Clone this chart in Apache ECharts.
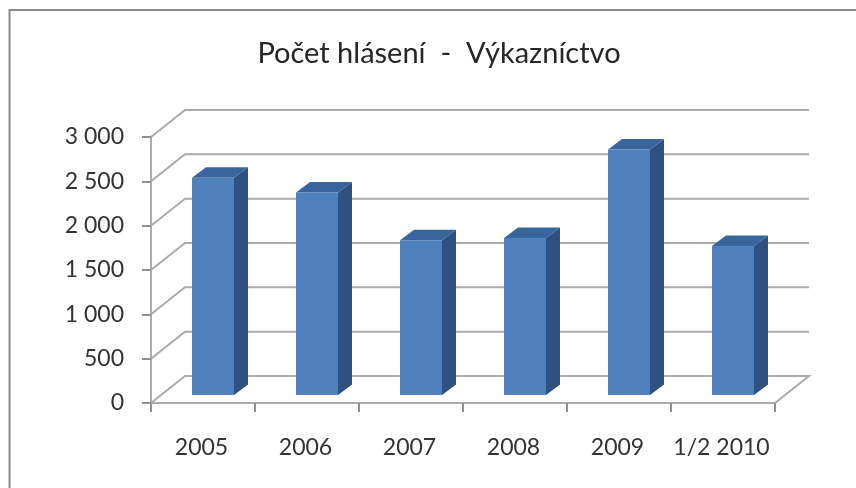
<!DOCTYPE html>
<html>
<head>
<meta charset="utf-8">
<script src="https://cdn.jsdelivr.net/npm/echarts@6/dist/echarts.min.js"></script>
<style>
html,body{margin:0;padding:0;background:#fff;overflow:hidden}
#c{width:856px;height:488px;filter:blur(0.7px)}
</style>
</head>
<body>
<div id="c"></div>
<script>
const categories = ['2005','2006','2007','2008','2009','1/2 2010'];
const values = [2450,2285,1745,1770,2770,1680];
const gridValues = [0,500,1000,1500,2000,2500,3000];
const tickLabels = {0:'0',500:'500',1000:'1 000',1500:'1 500',2000:'2 000',2500:'2 500',3000:'3 000'};

const WALL = [34,-27], NEAR = [10,-8], DEPTH = [14,-10.5], BAR_W = 42;
const FONT = 'Lato';
const chart = echarts.init(document.getElementById('c'), null, {renderer:'canvas'});

function wall(params, api){
  const g = params.coordSys, v = api.value(0);
  const y = api.coord([0, v])[1];
  const x0 = g.x, x1 = g.x + g.width;
  const pts = [[x0,y],[x0+WALL[0],y+WALL[1]],[x1+WALL[0],y+WALL[1]]];
  if (v === 0) pts.push([x1,y]);
  return {type:'polyline', shape:{points:pts}, style:{fill:null, stroke:'#ababab', lineWidth:2}};
}
function bar3d(params, api){
  const c = api.coord([api.value(0), 0]);
  const t = api.coord([api.value(0), api.value(1)]);
  const l = c[0] - BAR_W/2 + NEAR[0], r = l + BAR_W;
  const b = c[1] + NEAR[1], top = t[1] + NEAR[1];
  const dx = DEPTH[0], dy = DEPTH[1];
  return {type:'group', children:[
    {type:'polygon', shape:{points:[[r,top],[r+dx,top+dy],[r+dx,b+dy],[r,b]]}, style:{fill:'#2f5180'}},
    {type:'polygon', shape:{points:[[l,top],[l+dx,top+dy],[r+dx,top+dy],[r,top]]}, style:{fill:'#3a659c'}},
    {type:'rect', shape:{x:l,y:top,width:BAR_W,height:b-top}, style:{fill:'#4f81bd'}}
  ]};
}
chart.setOption({
  animation:false,
  backgroundColor:'#fff',
  graphic:[{type:'rect', silent:true, z:-10, shape:{x:9.5,y:10,width:900,height:600}, style:{fill:'#fff', stroke:'#8a8a8a', lineWidth:2}}],
  title:{text:'Počet hlásení  -  Výkazníctvo', left:434, top:34, textAlign:'center',
    textStyle:{fontFamily:FONT, fontSize:29, fontWeight:'normal', color:'#262626'}},
  grid:{left:151, top:137, width:624, height:266},
  xAxis:{type:'category', data:categories, boundaryGap:true,
    axisLine:{lineStyle:{color:'#ababab', width:2}},
    axisTick:{show:true, alignWithLabel:false, length:9, lineStyle:{color:'#8f8f8f', width:2}},
    axisLabel:{margin:33, fontFamily:FONT, fontSize:23, color:'#333', interval:0, padding:[0,3,0,0]},
    splitLine:{show:false}},
  yAxis:{type:'value', min:0, max:3000, interval:500,
    axisLine:{show:true, lineStyle:{color:'#ababab', width:2}},
    axisTick:{show:true, length:9, lineStyle:{color:'#8f8f8f', width:2}},
    axisLabel:{margin:27, fontFamily:FONT, fontSize:23, color:'#333', formatter:v=>tickLabels[v]},
    splitLine:{show:false}},
  series:[
    {type:'custom', z:1, silent:true, renderItem:wall, data:gridValues.map(v=>[v]), encode:{y:0}, clip:false},
    {type:'custom', z:2, silent:true, renderItem:bar3d, data:values.map((v,i)=>[i,v]), encode:{x:0,y:1}, clip:false}
  ]
});
</script>
</body>
</html>
